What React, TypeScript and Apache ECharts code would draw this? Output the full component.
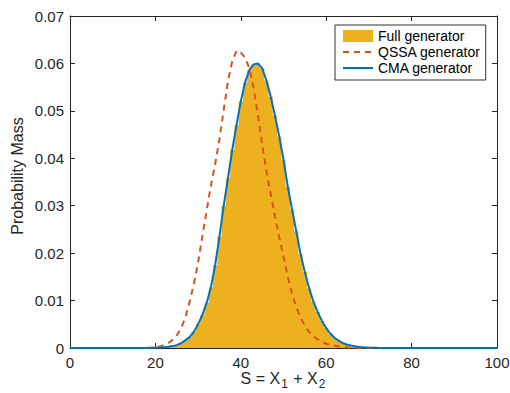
import React, { useEffect, useRef } from "react";
import * as echarts from "echarts";

// Sum values S = 0..100 (index of each value array below)
const sValues: number[] = [
  0, 1, 2, 3, 4, 5, 6, 7, 8, 9, 10, 11, 12, 13, 14, 15, 16, 17, 18, 19,
  20, 21, 22, 23, 24, 25, 26, 27, 28, 29, 30, 31, 32, 33, 34, 35, 36, 37, 38, 39,
  40, 41, 42, 43, 44, 45, 46, 47, 48, 49, 50, 51, 52, 53, 54, 55, 56, 57, 58, 59,
  60, 61, 62, 63, 64, 65, 66, 67, 68, 69, 70, 71, 72, 73, 74, 75, 76, 77, 78, 79,
  80, 81, 82, 83, 84, 85, 86, 87, 88, 89, 90, 91, 92, 93, 94, 95, 96, 97, 98, 99,
  100,
];

const fullGenerator: number[] = [
  0, 0, 0, 0, 0, 0, 0, 0, 0, 0, 0, 0, 0, 0, 0, 0, 0, 0, 0, 0,
  0.00005, 0.0001, 0.00015, 0.00025, 0.0004, 0.0006, 0.001, 0.0016, 0.0023, 0.0034,
  0.005, 0.007, 0.0095, 0.0128, 0.0175, 0.0235, 0.03, 0.0358, 0.0418, 0.047,
  0.052, 0.056, 0.0586, 0.0598, 0.06, 0.059, 0.0564, 0.053, 0.049, 0.0446,
  0.0397, 0.034, 0.0292, 0.0246, 0.0198, 0.016, 0.0126, 0.0098, 0.0076, 0.0057,
  0.0042, 0.003, 0.0021, 0.0015, 0.001, 0.0007, 0.0005, 0.0003, 0.0002, 0.00012,
  0.00008, 0.00005, 0.00003, 0.00002, 0, 0, 0, 0, 0, 0,
  0, 0, 0, 0, 0, 0, 0, 0, 0, 0, 0, 0, 0, 0, 0, 0, 0, 0, 0, 0, 0,
];

const qssaGenerator: number[] = [
  0, 0, 0, 0, 0, 0, 0, 0, 0, 0, 0, 0, 0, 0, 0, 0, 0, 0.00003, 0.00006, 0.0001,
  0.0002, 0.0003, 0.0006, 0.001, 0.0017, 0.0027, 0.0041, 0.0064, 0.0097, 0.0135,
  0.018, 0.0236, 0.029, 0.0342, 0.0388, 0.044, 0.0502, 0.0563, 0.0605, 0.0627,
  0.0623, 0.0612, 0.059, 0.0548, 0.0492, 0.043, 0.0372, 0.0325, 0.0278, 0.0233,
  0.0193, 0.015, 0.0115, 0.0086, 0.0064, 0.0047, 0.0034, 0.0025, 0.0018, 0.0013,
  0.0009, 0.0007, 0.0005, 0.0003, 0.0002, 0.0001, 0.00006, 0.00003, 0, 0,
  0, 0, 0, 0, 0, 0, 0, 0, 0, 0,
  0, 0, 0, 0, 0, 0, 0, 0, 0, 0, 0, 0, 0, 0, 0, 0, 0, 0, 0, 0, 0,
];

const cmaGenerator: number[] = [
  0, 0, 0, 0, 0, 0, 0, 0, 0, 0, 0, 0, 0, 0, 0, 0, 0, 0, 0, 0,
  0.00005, 0.0001, 0.00015, 0.00025, 0.0004, 0.0006, 0.001, 0.0016, 0.0023, 0.0034,
  0.005, 0.007, 0.0095, 0.0128, 0.0175, 0.0235, 0.03, 0.0358, 0.0418, 0.047,
  0.052, 0.056, 0.0586, 0.0598, 0.06, 0.059, 0.0564, 0.053, 0.049, 0.0446,
  0.0397, 0.034, 0.0292, 0.0246, 0.0198, 0.016, 0.0126, 0.0098, 0.0076, 0.0057,
  0.0042, 0.003, 0.0021, 0.0015, 0.001, 0.0007, 0.0005, 0.0003, 0.0002, 0.00012,
  0.00008, 0.00005, 0.00003, 0.00002, 0, 0, 0, 0, 0, 0,
  0, 0, 0, 0, 0, 0, 0, 0, 0, 0, 0, 0, 0, 0, 0, 0, 0, 0, 0, 0, 0,
];

const xTicks = { min: 0, max: 100, interval: 20 };
const yTicks = { min: 0, max: 0.07, interval: 0.01 };

const FONT = "'Liberation Sans', Arial, Helvetica, sans-serif";
const AXIS_COLOR = "#262626";

function pairs(values: number[]): [number, number][] {
  return values.map((v, i) => [sValues[i], v]);
}

export default function App() {
  const ref = useRef<HTMLDivElement>(null);

  useEffect(() => {
    if (!ref.current) return;
    const chart = echarts.init(ref.current, undefined, { renderer: "svg" });

    const axisLine = { show: true, onZero: false, lineStyle: { color: AXIS_COLOR, width: 1 } };
    const axisTick = { show: true, inside: true, length: 5, lineStyle: { color: AXIS_COLOR, width: 1 } };

    chart.setOption({
      animation: false,
      textStyle: { fontFamily: FONT },
      grid: {
        left: 70,
        right: 13,
        top: 16,
        bottom: 45,
        containLabel: false,
        outerBoundsMode: "none",
      },
      legend: {
        left: 335,
        top: 25,
        orient: "vertical",
        backgroundColor: "#ffffff",
        borderColor: "#333333",
        borderWidth: 1,
        padding: [3, 5, 4, 7],
        itemGap: 0,
        itemWidth: 30,
        itemHeight: 12,
        itemStyle: { opacity: 0 },
        textStyle: { fontSize: 14, color: "#000000", lineHeight: 16, fontFamily: FONT },
        data: [
          { name: "Full generator", icon: "rect", itemStyle: { opacity: 1 } },
          { name: "QSSA generator" },
          { name: "CMA generator" },
        ],
      },
      xAxis: [
        {
          type: "value",
          position: "bottom",
          ...xTicks,
          axisLine,
          axisTick,
          splitLine: { show: false },
          axisLabel: { fontSize: 15, color: AXIS_COLOR, margin: 7, fontFamily: FONT },
          name: "S = X{sub|1} + X{sub|2}",
          nameLocation: "middle",
          nameGap: 18,
          nameMoveOverlap: false,
          nameTextStyle: {
            fontSize: 16,
            color: AXIS_COLOR,
            fontFamily: FONT,
            verticalAlign: "top",
            rich: {
              sub: { fontSize: 12, color: AXIS_COLOR, fontFamily: FONT, padding: [12, 1, 0, 1] },
            },
          },
        },
        {
          type: "value",
          position: "top",
          ...xTicks,
          axisLine,
          axisTick,
          splitLine: { show: false },
          axisLabel: { show: false },
        },
      ],
      yAxis: [
        {
          type: "value",
          position: "left",
          ...yTicks,
          axisLine,
          axisTick,
          splitLine: { show: false },
          axisLabel: {
            fontSize: 15,
            color: AXIS_COLOR,
            margin: 6,
            fontFamily: FONT,
            formatter: (v: number) => (v === 0 ? "0" : v.toFixed(2)),
          },
          name: "Probability Mass",
          nameLocation: "middle",
          nameGap: 45,
          nameMoveOverlap: false,
          nameTextStyle: { fontSize: 16, color: AXIS_COLOR, fontFamily: FONT, padding: [0, 0, 0, 12] },
        },
        {
          type: "value",
          position: "right",
          ...yTicks,
          axisLine,
          axisTick,
          splitLine: { show: false },
          axisLabel: { show: false },
        },
      ],
      series: [
        {
          name: "Full generator",
          type: "line",
          step: "middle",
          symbol: "none",
          color: "#EDB120",
          lineStyle: { width: 0 },
          areaStyle: { color: "#EDB120", opacity: 1 },
          data: pairs(fullGenerator),
          z: 1,
        },
        {
          name: "QSSA generator",
          type: "line",
          symbol: "none",
          color: "#D95319",
          lineStyle: { color: "#D95319", width: 2, type: [6, 5] },
          data: pairs(qssaGenerator),
          z: 2,
        },
        {
          name: "CMA generator",
          type: "line",
          symbol: "none",
          color: "#0072BD",
          lineStyle: { color: "#0072BD", width: 2 },
          data: pairs(cmaGenerator),
          z: 3,
        },
      ],
    });

    return () => chart.dispose();
  }, []);

  return (
    <div
      ref={ref}
      style={{ position: "fixed", left: 0, top: 0, width: 510, height: 393, background: "#ffffff" }}
    />
  );
}
